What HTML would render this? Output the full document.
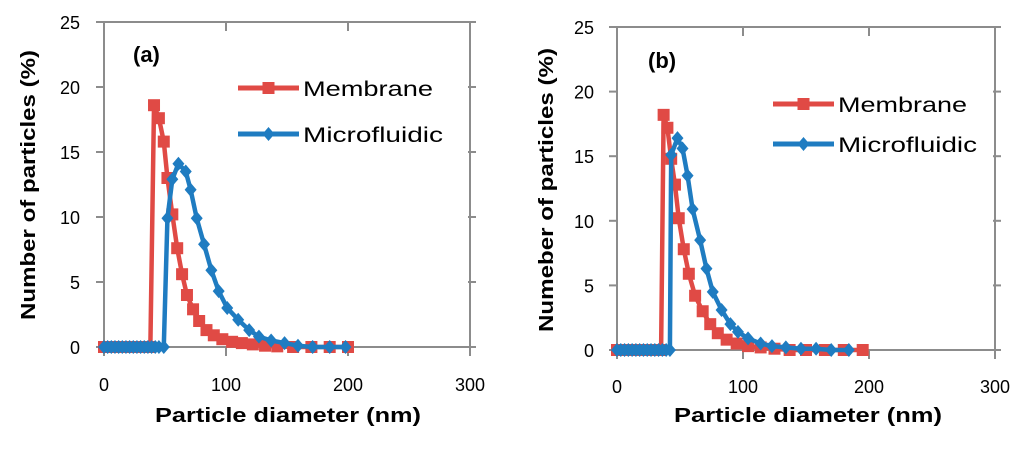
<!DOCTYPE html>
<html><head><meta charset="utf-8"><style>
html,body{margin:0;padding:0;background:#fff;width:1024px;height:451px;overflow:hidden}
svg{display:block;font-family:"Liberation Sans",sans-serif}
</style></head><body>
<svg id="chart" width="1024" height="451"></svg>
<script>
// Panel (a)
const memAX=[0,3,6,9,12,15,18,21,24,27,30,33,36,38,41,45,49,52,56,60,64,68,73,78,84,90,97,105,113,122,132,142,155,170,185,200];
const memAY=[0,0,0,0,0,0,0,0,0,0,0,0,0,0,18.6,17.6,15.8,13,10.2,7.6,5.6,4.0,2.9,2.0,1.3,0.9,0.6,0.4,0.3,0.2,0.1,0.05,0,0,0,0];
const micAX=[0,3,6,9,12,15,18,21,24,27,30,33,36,39,42,45,49,52,56,61,67,71,76,82,88,94,101,110,119,127,137,148,159,171,185,198];
const micAY=[0,0,0,0,0,0,0,0,0,0,0,0,0,0,0,0,0,9.9,12.9,14.1,13.5,12.1,9.9,7.9,5.9,4.3,3.0,2.1,1.3,0.8,0.5,0.3,0.1,0,0,0];
// Panel (b)
const memBX=[0,3,6,9,12,15,18,21,24,27,30,33,35,37,40,43,46,49,53,57,62,68,74,80,87,95,104,114,125,137,150,165,180,195];
const memBY=[0,0,0,0,0,0,0,0,0,0,0,0,0,18.2,17.2,14.8,12.8,10.2,7.8,5.9,4.2,3.0,2.0,1.3,0.8,0.5,0.3,0.2,0.1,0,0,0,0,0];
const micBX=[0,3,6,9,12,15,18,21,24,27,30,33,36,39,42,43,48,52,56,60,66,71,76,83,90,96,104,114,123,134,146,158,170,184];
const micBY=[0,0,0,0,0,0,0,0,0,0,0,0,0,0,0,15.1,16.4,15.6,13.5,10.9,8.5,6.3,4.5,3.1,2.0,1.4,0.9,0.5,0.3,0.2,0.1,0.1,0,0];
const xTicks=[0,100,200,300];
const yTicks=[0,5,10,15,20,25];

const NS="http://www.w3.org/2000/svg";
const svg=document.getElementById('chart');
function mk(tag,attrs,parent){const e=document.createElementNS(NS,tag);for(const k in attrs)e.setAttribute(k,attrs[k]);(parent||svg).appendChild(e);return e;}

const panels=[
 {id:'a',x0:104,xs:1.22,y0:347,ys:13.0,label:'(a)',lx:133,ly:62,ytitle:'Number of particles (%)',ytx:28,yspan:[50,320],
  tickR:80,xlabY:391,xtitleY:422,xtitleX:[155,421],leg:[238,299,88,134],legTxt:303,legW:[130,140],
  mx:memAX,my:memAY,fx:micAX,fy:micAY},
 {id:'b',x0:617,xs:1.26,y0:350,ys:12.92,label:'(b)',lx:648,ly:68,ytitle:'Numeber of particles (%)',ytx:546,yspan:[48,332],
  tickR:594,xlabY:393,xtitleY:422,xtitleX:[674,942],leg:[773,834,104,144],legTxt:838,legW:[129,139],
  mx:memBX,my:memBY,fx:micBX,fy:micBY}
];

panels.forEach(p=>{
  const X=v=>p.x0+v*p.xs, Y=v=>p.y0-v*p.ys;
  const g=mk('g',{});
  
  
  const right=X(300), top=Y(25);
  const frame=mk('rect',{x:p.x0,y:top,width:right-p.x0,height:p.y0-top,fill:'none',stroke:'#8c8c8c','stroke-width':2},g);
  
  
  xTicks.forEach(t=>{
    mk('line',{x1:X(t),x2:X(t),y1:p.y0,y2:p.y0+9,stroke:'#8c8c8c','stroke-width':2},g);
    mk('line',{x1:X(t),x2:X(t),y1:top,y2:top+9,stroke:'#8c8c8c','stroke-width':2},g);
    const tx=mk('text',{x:X(t),y:p.xlabY,'font-size':18,'text-anchor':'middle',fill:'#000'},g);
    tx.textContent=t;
    
    
  });
  yTicks.forEach(t=>{
    mk('line',{x1:p.x0-8,x2:p.x0,y1:Y(t),y2:Y(t),stroke:'#8c8c8c','stroke-width':2},g);
    mk('line',{x1:right-2,x2:right+6,y1:Y(t),y2:Y(t),stroke:'#8c8c8c','stroke-width':2},g);
    const tx=mk('text',{x:p.tickR,y:Y(t)+7,'font-size':18,'text-anchor':'end',fill:'#000'},g);
    tx.textContent=t;
    
    
  });
  const yt=mk('text',{x:0,y:0,'font-size':20,'font-weight':'bold','text-anchor':'middle',textLength:p.yspan[1]-p.yspan[0],lengthAdjust:'spacingAndGlyphs',transform:`translate(${p.ytx+7},${(p.yspan[0]+p.yspan[1])/2}) rotate(-90)`},g);
  yt.textContent=p.ytitle;
  
  
  const xt=mk('text',{x:p.xtitleX[0],y:p.xtitleY,'font-size':20,'font-weight':'bold',textLength:p.xtitleX[1]-p.xtitleX[0],lengthAdjust:'spacingAndGlyphs'},g);
  xt.textContent='Particle diameter (nm)';
  
  
  const pl=mk('text',{x:p.lx,y:p.ly,'font-size':22,'font-weight':'bold'},g);
  pl.textContent=p.label;
  
  

  const red='#e04a45', blue='#1f7cc1';
  function series(xs,ys,color,shape,name){
    const sg=mk('g',{},g);
    
    
    mk('polyline',{points:xs.map((x,i)=>X(x)+','+Y(ys[i])).join(' '),fill:'none',stroke:color,'stroke-width':4.5,'stroke-linejoin':'round'},sg);
    xs.forEach((x,i)=>marker(sg,X(x),Y(ys[i]),color,shape));
  }
  function marker(par,cx,cy,color,shape){
    let m;
    if(shape==='sq') m=mk('rect',{x:cx-6,y:cy-6,width:12,height:12,fill:color},par);
    else m=mk('polygon',{points:`${cx},${cy-7} ${cx+6},${cy} ${cx},${cy+7} ${cx-6},${cy}`,fill:color},par);
    
    
  }
  series(p.mx,p.my,red,'sq','membrane-series');
  series(p.fx,p.fy,blue,'di','microfluidic-series');

  const [l1,l2,ly1,ly2]=p.leg;
  [[ly1,red,'sq','Membrane',p.legW[0]],[ly2,blue,'di','Microfluidic',p.legW[1]]].forEach(([ly,c,s,t,w])=>{
    const le=mk('g',{},g);
    
    
    mk('line',{x1:l1,x2:l2,y1:ly,y2:ly,stroke:c,'stroke-width':5},le);
    marker(le,(l1+l2)/2,ly,c,s);
    const tt=mk('text',{x:p.legTxt,y:ly+8,'font-size':21,textLength:w,lengthAdjust:'spacingAndGlyphs'},le);
    tt.textContent=t;
  });
});
</script>
</body></html>
